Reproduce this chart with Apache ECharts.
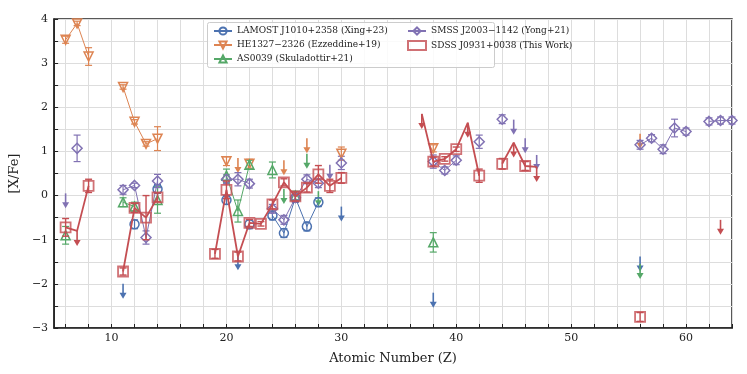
<!DOCTYPE html>
<html>
<head>
<meta charset="utf-8">
<script src="https://cdn.jsdelivr.net/npm/echarts@6/dist/echarts.min.js"></script>
<style>
  html, body { margin: 0; padding: 0; background: #fff; }
  #chart { width: 747px; height: 374px; }
</style>
</head>
<body>
<div id="chart"></div>
<script>
// [X/Fe] against atomic number Z, five stars; *LimZ / *LimVal are upper limits (down arrows)
var lamostName = 'LAMOST J1010+2358 (Xing+23)';
var lamostZ = [12, 14, 20, 22, 24, 25, 26, 27, 28];
var lamostVal = [-0.65, 0.15, -0.1, -0.65, -0.45, -0.85, -0.05, -0.7, -0.15];
var lamostErr = [0.1, 0.1, 0.1, 0.1, 0.1, 0.1, 0.1, 0.1, 0.1];
var lamostLimZ = [11, 21, 30, 38, 56];
var lamostLimVal = [-2.0, -1.35, -0.25, -2.2, -1.38];

var heName = 'HE1327\u22122326 (Ezzeddine+19)';
var heZ = [6, 7, 8, 11, 12, 13, 14, 20, 22, 30, 38];
var heVal = [3.53, 3.9, 3.15, 2.46, 1.67, 1.17, 1.29, 0.78, 0.72, 0.95, 1.07];
var heErr = [0.08, 0.05, 0.2, 0.05, 0.05, 0.05, 0.27, 0.1, 0.1, 0.15, 0.08];
var heLimZ = [21, 25, 27, 56];
var heLimVal = [0.85, 0.8, 1.3, 1.4];

var asName = 'AS0039 (Skuladottir+21)';
var asZ = [6, 11, 12, 14, 20, 21, 22, 24, 26, 38];
var asVal = [-0.9, -0.15, -0.25, -0.1, 0.45, -0.35, 0.7, 0.58, 0.0, -1.06];
var asErr = [0.2, 0.1, 0.1, 0.3, 0.15, 0.25, 0.1, 0.18, 0.1, 0.22];
var asLimZ = [25, 27, 28, 56];
var asLimVal = [0.15, 0.95, 0.1, -1.55];

var smssName = 'SMSS J2003\u22121142 (Yong+21)';
var smssZ = [7, 11, 12, 13, 14, 20, 21, 22, 24, 25, 26, 27, 28, 30, 38, 39, 40, 42, 44, 56, 57, 58, 59, 60, 62, 63, 64];
var smssVal = [1.07, 0.13, 0.23, -0.95, 0.33, 0.37, 0.37, 0.27, -0.3, -0.55, -0.05, 0.37, 0.28, 0.74, 0.77, 0.57, 0.8, 1.22, 1.73, 1.15, 1.3, 1.05, 1.53, 1.45, 1.68, 1.7, 1.7];
var smssErr = [0.3, 0.1, 0.05, 0.15, 0.15, 0.1, 0.15, 0.1, 0.1, 0.1, 0.1, 0.1, 0.1, 0.15, 0.15, 0.08, 0.1, 0.15, 0.1, 0.1, 0.08, 0.1, 0.2, 0.08, 0.08, 0.08, 0.08];
var smssLimZ = [6, 29, 45, 46, 47];
var smssLimVal = [0.05, 0.7, 1.72, 1.3, 0.92];

var sdssName = 'SDSS J0931+0038 (This Work)';
var sdssZ = [6, 8, 11, 12, 13, 14, 19, 20, 21, 22, 23, 24, 25, 26, 27, 28, 29, 30, 38, 39, 40, 42, 44, 46, 56];
var sdssVal = [-0.72, 0.22, -1.72, -0.28, -0.5, -0.04, -1.32, 0.13, -1.38, -0.62, -0.64, -0.2, 0.3, -0.02, 0.18, 0.48, 0.22, 0.4, 0.77, 0.83, 1.05, 0.45, 0.72, 0.67, -2.75];
var sdssErr = [0.2, 0.15, 0.08, 0.1, 0.5, 0.1, 0.1, 0.2, 0.1, 0.08, 0.05, 0.1, 0.08, 0.1, 0.1, 0.2, 0.15, 0.12, 0.1, 0.05, 0.05, 0.15, 0.12, 0.1, 0.1];
var sdssLimZ = [7, 37, 41, 45, 47, 63];
var sdssLimVal = [-0.8, 1.85, 1.65, 1.2, 0.65, -0.55];

var xLabelValues = [10, 20, 30, 40, 50, 60];

var FONT = 'DejaVu Serif';
var C = { blue: '#4C72B0', orange: '#DD8452', green: '#55A868', red: '#C44E52', purple: '#8172B3' };

// line through consecutive Z only; missing Z breaks the line
function lineData(zs, vs) {
  var map = {};
  zs.forEach(function (z, i) { map[z] = vs[i]; });
  var sorted = zs.slice().sort(function (a, b) { return a - b; });
  var out = [];
  for (var z = sorted[0]; z <= sorted[sorted.length - 1]; z++) {
    out.push([z, map[z] === undefined ? null : map[z]]);
  }
  return out;
}

function errItem(color, lw) {
  return function (params, api) {
    var z = api.value(0), v = api.value(1), e = api.value(2);
    var a = api.coord([z, v + e]), b = api.coord([z, v - e]);
    var cw = 3.5;
    var st = { stroke: color, lineWidth: lw };
    return { type: 'group', children: [
      { type: 'line', shape: { x1: a[0], y1: a[1], x2: b[0], y2: b[1] }, style: st },
      { type: 'line', shape: { x1: a[0] - cw, y1: a[1], x2: a[0] + cw, y2: a[1] }, style: st },
      { type: 'line', shape: { x1: b[0] - cw, y1: b[1], x2: b[0] + cw, y2: b[1] }, style: st }
    ] };
  };
}

function arrowItem(color) {
  return function (params, api) {
    var p = api.coord([api.value(0), api.value(1)]);
    var len = 15, hw = 3.5, hh = 6;
    return { type: 'group', children: [
      { type: 'line', shape: { x1: p[0], y1: p[1], x2: p[0], y2: p[1] + len - hh + 1 },
        style: { stroke: color, lineWidth: 1.6 } },
      { type: 'polygon', shape: { points: [[p[0] - hw, p[1] + len - hh], [p[0] + hw, p[1] + len - hh], [p[0], p[1] + len]] },
        style: { fill: color } }
    ] };
  };
}

function zip3(a, b, c) { return a.map(function (v, i) { return [v, b[i], c ? c[i] : 0]; }); }

function starSeries(name, color, zs, vs, errs, limZ, limVal, symbol, size, rotate, z) {
  return [
    { name: name + ' err', type: 'custom', renderItem: errItem(color, 1.2), data: zip3(zs, vs, errs), z: z, silent: true },
    { name: name + ' lim', type: 'custom', renderItem: arrowItem(color), data: zip3(limZ, limVal), z: z, silent: true },
    { name: name, type: 'line', data: lineData(zs, vs), connectNulls: false,
      symbol: symbol, symbolSize: size, symbolRotate: rotate,
      lineStyle: { color: color, width: 1 },
      itemStyle: { color: 'rgba(255,255,255,0)', borderColor: color, borderWidth: 1.5 },
      z: z + 1, animation: false }
  ];
}

var series = [].concat(
  starSeries(lamostName, C.blue, lamostZ, lamostVal, lamostErr, lamostLimZ, lamostLimVal, 'circle', 9, 0, 2),
  starSeries(heName, C.orange, heZ, heVal, heErr, heLimZ, heLimVal, 'triangle', 9, 180, 2),
  starSeries(asName, C.green, asZ, asVal, asErr, asLimZ, asLimVal, 'triangle', 9, 0, 2),
  starSeries(smssName, C.purple, smssZ, smssVal, smssErr, smssLimZ, smssLimVal, 'diamond', 10, 0, 3)
);

// SDSS: line also runs through the upper limits, markers drawn separately
var sdssLine = lineData(sdssZ.concat(sdssLimZ), sdssVal.concat(sdssLimVal));
series.push(
  { name: sdssName + ' line', type: 'line', data: sdssLine, connectNulls: false, symbol: 'none',
    lineStyle: { color: C.red, width: 1.8 }, z: 6, animation: false },
  { name: sdssName + ' err', type: 'custom', renderItem: errItem(C.red, 1.4), data: zip3(sdssZ, sdssVal, sdssErr), z: 6, silent: true },
  { name: sdssName + ' lim', type: 'custom', renderItem: arrowItem(C.red), data: zip3(sdssLimZ, sdssLimVal), z: 6, silent: true },
  { name: sdssName, type: 'scatter', data: zip3(sdssZ, sdssVal).map(function (d) { return [d[0], d[1]]; }),
    symbol: 'rect', symbolSize: 10,
    itemStyle: { color: 'rgba(255,255,255,0)', borderColor: C.red, borderWidth: 1.8 }, z: 7, animation: false }
);

var evens = [];
for (var t = 6; t <= 64; t += 2) evens.push(t);

var chart = echarts.init(document.getElementById('chart'), null, { renderer: 'canvas' });
var legendBase = {
  orient: 'vertical', top: 26, padding: 0, itemGap: 4, itemWidth: 18, itemHeight: 9,
  textStyle: { fontFamily: FONT, fontSize: 9, color: '#222', lineHeight: 10 }, selectedMode: false, z: 20
};
chart.setOption({
  animation: false,
  backgroundColor: '#fff',
  grid: { left: 52, right: 15, top: 19, bottom: 46, show: true, borderColor: '#222', borderWidth: 1.5, backgroundColor: 'transparent' },
  xAxis: {
    type: 'value', min: 5, max: 64,
    name: 'Atomic Number (Z)', nameLocation: 'middle', nameGap: 24,
    nameTextStyle: { fontFamily: FONT, fontSize: 13, color: '#222' },
    axisLine: { show: true, onZero: false, lineStyle: { color: '#222', width: 1.5 } },
    axisTick: { show: true, inside: true, length: 4, customValues: evens, lineStyle: { color: '#222' } },
    axisLabel: { customValues: xLabelValues, fontFamily: FONT, fontSize: 11, color: '#222', margin: 5 },
    splitLine: { show: true, lineStyle: { color: '#dddddd', width: 1 } }
  },
  yAxis: {
    type: 'value', min: -3, max: 4, interval: 0.5,
    name: '[X/Fe]', nameLocation: 'middle', nameGap: 30,
    nameTextStyle: { fontFamily: FONT, fontSize: 13, color: '#222' },
    axisLine: { show: true, onZero: false, lineStyle: { color: '#222', width: 1.5 } },
    axisTick: { show: true, inside: true, length: 4, lineStyle: { color: '#222' } },
    axisLabel: {
      fontFamily: FONT, fontSize: 11, color: '#222', margin: 6,
      formatter: function (v) {
        if (Math.abs(v - Math.round(v)) > 1e-6) return '';
        return v < 0 ? '\u2212' + Math.abs(v) : String(v);
      }
    },
    splitLine: { show: true, lineStyle: { color: '#dddddd', width: 1 } }
  },
  graphic: [{
    type: 'rect', left: 207, top: 22, z: 15,
    shape: { width: 287, height: 45, r: 2 },
    style: { fill: 'rgba(255,255,255,0.85)', stroke: '#cccccc', lineWidth: 1 }
  }],
  legend: [
    Object.assign({}, legendBase, { left: 213, data: [lamostName, heName, asName] }),
    Object.assign({}, legendBase, { left: 407, data: [smssName, sdssName] })
  ],
  series: series
});
</script>
</body>
</html>
